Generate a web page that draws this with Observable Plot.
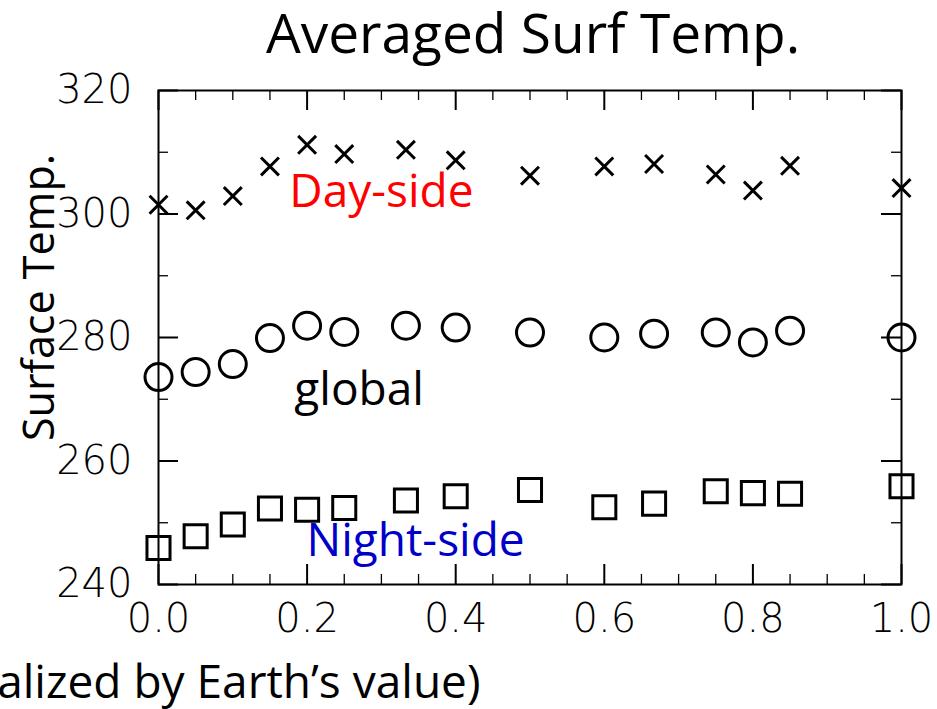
<!DOCTYPE html>
<html><head><meta charset="utf-8">
<script src="https://cdn.jsdelivr.net/npm/d3@7"></script>
<script src="https://cdn.jsdelivr.net/npm/@observablehq/plot@0.6"></script>
<style>body{margin:0;background:#fff} #chart svg{display:block}</style>
</head><body><div id="chart"></div>
<script>
// ---- data ----
const xValues = [0, 0.05, 0.1, 0.15, 0.2, 0.25, 0.333, 0.4, 0.5, 0.6, 0.667, 0.75, 0.8, 0.85, 1.0];
const daySide = [301.5, 300.6, 302.9, 307.7, 311.2, 309.7, 310.4, 308.7, 306.2, 307.7, 308.1, 306.4, 303.8, 307.8, 304.2];
const globalMean = [273.6, 274.4, 275.7, 279.9, 281.9, 280.9, 281.9, 281.6, 280.8, 280.0, 280.6, 280.8, 279.2, 281.1, 280.0];
const nightSide = [245.9, 247.8, 249.7, 252.3, 252.1, 252.4, 253.6, 254.3, 255.3, 252.5, 253.1, 255.1, 254.8, 254.7, 255.9];
const xMajorTicks = [0, 0.2, 0.4, 0.6, 0.8, 1.0];
const xMinorTicks = [0.05, 0.1, 0.15, 0.25, 0.3, 0.35, 0.45, 0.5, 0.55, 0.65, 0.7, 0.75, 0.85, 0.9, 0.95];
const yMajorTicks = [240, 260, 280, 300, 320];
const yMinorTicks = [250, 270, 290, 310];
const seriesLabels = ["Day-side", "global", "Night-side"];
const labelX = [0.30, 0.27, 0.346];
const labelY = [303.5, 271.4, 247.0];
const titleText = "Averaged Surf Temp.";
const yTitle = "Surface Temp.";
const xTitle = "(normalized by Earth’s value)";

// ---- layout ----
const W = 937, H = 709, mL = 158, mR = 36, mT = 90, mB = 125;
const fw = W - mL - mR, fh = H - mT - mB;
const rows = vals => xValues.map((x, i) => ({x, t: vals[i]}));
const labelRows = seriesLabels.map((s, i) => ({text: s, x: labelX[i], y: labelY[i]}));
const labelColors = {"Day-side": "#ff0000", "global": "#000000", "Night-side": "#0000c8"};
const labelFont = "'Open Sans', sans-serif";
const tickFont = "'DejaVu Sans', sans-serif";

const plot = Plot.plot({
  width: W, height: H,
  marginLeft: mL, marginRight: mR, marginTop: mT, marginBottom: mB,
  x: {domain: [0, 1]},
  y: {domain: [240, 320]},
  style: {background: "white", color: "black"},
  marks: [
    Plot.frame({stroke: "black", strokeWidth: 2}),
    Plot.tickX(xMajorTicks, {x: d => d, insetTop: fh - 20, stroke: "black", strokeWidth: 2}),
    Plot.tickX(xMajorTicks, {x: d => d, insetBottom: fh - 20, stroke: "black", strokeWidth: 2}),
    Plot.tickX(xMinorTicks, {x: d => d, insetTop: fh - 10, stroke: "black", strokeWidth: 1.3}),
    Plot.tickX(xMinorTicks, {x: d => d, insetBottom: fh - 10, stroke: "black", strokeWidth: 1.3}),
    Plot.tickY(yMajorTicks, {y: d => d, insetRight: fw - 20, stroke: "black", strokeWidth: 2}),
    Plot.tickY(yMajorTicks, {y: d => d, insetLeft: fw - 20, stroke: "black", strokeWidth: 2}),
    Plot.tickY(yMinorTicks, {y: d => d, insetRight: fw - 10, stroke: "black", strokeWidth: 1.3}),
    Plot.tickY(yMinorTicks, {y: d => d, insetLeft: fw - 10, stroke: "black", strokeWidth: 1.3}),
    Plot.axisX({ticks: xMajorTicks, tickSize: 0, tickPadding: 19, tickFormat: d => d.toFixed(1),
      fontSize: 40, fontFamily: tickFont, fontWeight: 200, label: null}),
    Plot.axisY({ticks: yMajorTicks, tickSize: 0, tickPadding: 26, tickFormat: d => String(d),
      fontSize: 40, fontFamily: tickFont, fontWeight: 200, label: null}),
    Plot.dot(rows(daySide), {x: "x", y: "t", symbol: "times", r: 8.2, stroke: "black", strokeWidth: 3}),
    Plot.dot(rows(globalMean), {x: "x", y: "t", symbol: "circle", r: 13.5, stroke: "black", strokeWidth: 3}),
    Plot.dot(rows(nightSide), {x: "x", y: "t", symbol: "square", r: 13, stroke: "black", strokeWidth: 3}),
    Plot.text(labelRows, {x: "x", y: "y", text: "text", fill: d => labelColors[d.text],
      fontSize: 46, fontFamily: labelFont}),
    Plot.text([titleText], {text: d => d, frameAnchor: "top", textAnchor: "middle", lineAnchor: "middle",
      dx: 3, dy: -55, fontSize: 55, fontFamily: labelFont}),
    Plot.text([yTitle], {text: d => d, frameAnchor: "left", textAnchor: "middle", lineAnchor: "middle",
      rotate: -90, dx: -118, dy: -40, fontSize: 43, fontFamily: labelFont}),
    Plot.text([xTitle], {text: d => d, frameAnchor: "bottom-left", textAnchor: "end", lineAnchor: "middle",
      dx: 322, dy: 99, fontSize: 46, fontFamily: labelFont})
  ]
});
document.getElementById("chart").append(plot);
</script>
</body></html>
